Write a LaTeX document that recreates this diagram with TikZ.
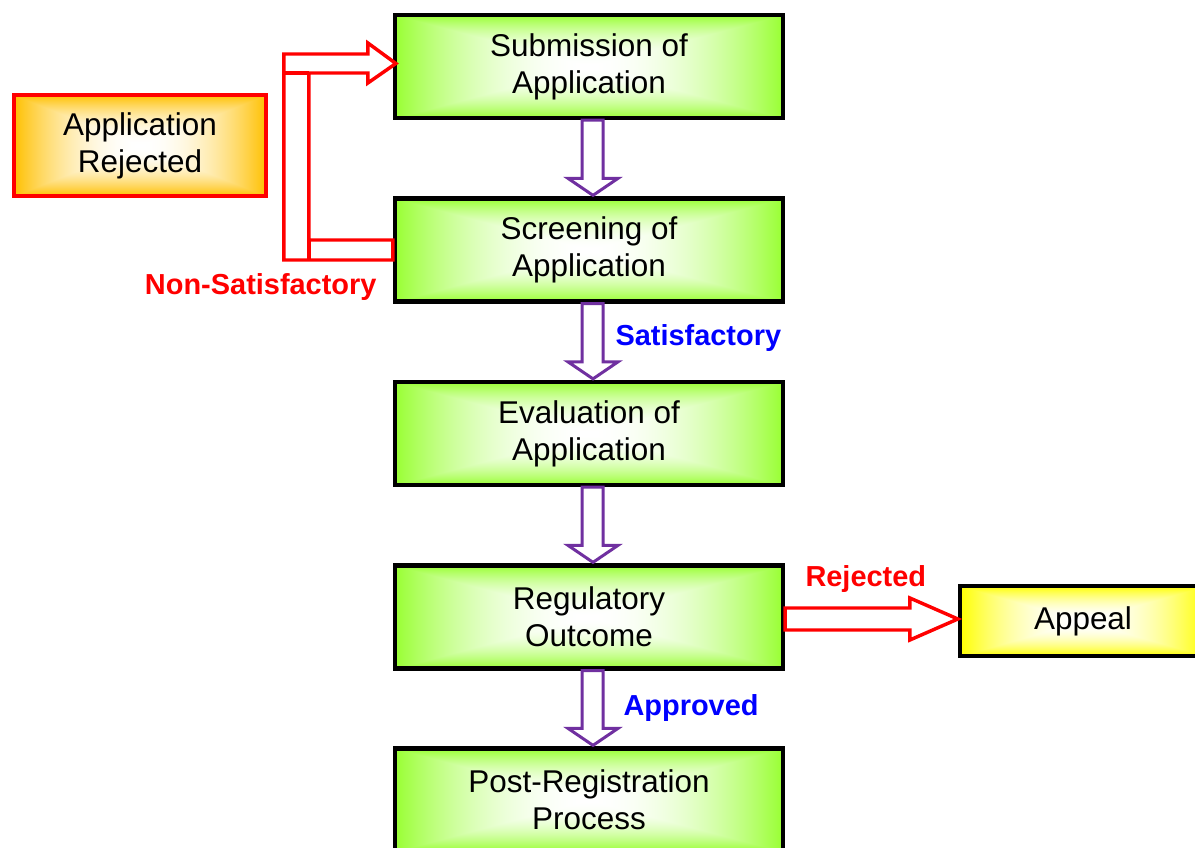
\documentclass[tikz,border=0pt]{standalone}
\usepackage{fontspec}
\setmainfont{Liberation Sans}
\usetikzlibrary{calc}

% rectangular glow: white in the middle, full colour at the border
\pgfdeclarefunctionalshading{greenglow}{\pgfpoint{0bp}{0bp}}{\pgfpoint{100bp}{100bp}}{}{
50 sub abs 25 exch sub 25 div exch 50 sub abs 25 exch sub 25 div
2 copy add 3 1 roll sub abs sub 2 div
1 exch sub dup mul 1 exch sub
dup 0.4 mul 0.6 add exch 0.8 mul 0.2 add 1 exch}
\pgfdeclarefunctionalshading{orangeglow}{\pgfpoint{0bp}{0bp}}{\pgfpoint{100bp}{100bp}}{}{
50 sub abs 25 exch sub 25 div exch 50 sub abs 25 exch sub 25 div
2 copy add 3 1 roll sub abs sub 2 div
1 exch sub dup mul 1 exch sub
dup 0.247 mul 0.753 add exch 1 3 1 roll}
\pgfdeclarefunctionalshading{yellowglow}{\pgfpoint{0bp}{0bp}}{\pgfpoint{100bp}{100bp}}{}{
50 sub abs 25 exch sub 25 div exch 50 sub abs 25 exch sub 25 div
2 copy add 3 1 roll sub abs sub 2 div
1 exch sub dup mul 1 exch sub
1 1 3 2 roll}

\definecolor{flowpurple}{RGB}{112,48,160}

\newcommand\boxfont{\fontsize{23.6}{27.75}\selectfont}
\newcommand\labelfont{\fontsize{21.7}{26}\selectfont\bfseries}

\tikzset{every picture/.style={line width=0.75pt},
  stagebox/.style={draw=black, line width=3.2pt, shading=greenglow, align=center, font=\boxfont,
    minimum width={388*0.75pt}, minimum height={103*0.75pt}, inner sep=0pt},
  rejectbox/.style={draw=red, line width=3.2pt, shading=orangeglow, align=center, font=\boxfont,
    minimum width={252*0.75pt}, minimum height={101*0.75pt}, inner sep=0pt},
  appealbox/.style={draw=black, line width=3.2pt, shading=yellowglow, align=center, font=\boxfont,
    minimum width={246*0.75pt}, minimum height={70*0.75pt}, inner sep=0pt},
  okarrow/.style={draw=flowpurple, line width=2.25pt, fill=white, line join=miter},
  noarrow/.style={draw=red, line width=2.6pt, fill=white, line join=miter},
  redlabel/.style={text=red, font=\labelfont, inner sep=0pt},
  bluelabel/.style={text=blue, font=\labelfont, inner sep=0pt}
}

% hollow arrow from the bottom of #1 down to the top of #2
\newcommand\hollowdown[2]{%
\draw [okarrow] ($(#1.south)+(-7,0)$) -- ($(#2.north)+(-7,-18)$) -- ($(#2.north)+(-21,-18)$) -- ($(#2.north)+(4,-1)$) -- ($(#2.north)+(29,-18)$) -- ($(#2.north)+(14,-18)$) -- ($(#1.south)+(14,0)$) -- cycle ;}

\begin{document}
\begin{tikzpicture}[x=0.75pt,y=0.75pt,yscale=-1,xscale=1]
\useasboundingbox (0,0) rectangle (1195,848);

%Shape: Rectangle [submission]
\node [stagebox] (sub) at (589,66.5) {Submission of\\Application};
%Shape: Rectangle [screening]
\node [stagebox] (scr) at (589,250) {Screening of\\Application};
%Shape: Rectangle [evaluation]
\node [stagebox] (eva) at (589,433.5) {Evaluation of\\Application};
%Shape: Rectangle [outcome]
\node [stagebox] (reg) at (589,617) {Regulatory\\Outcome};
%Shape: Rectangle [post registration]
\node [stagebox] (post) at (589,800) {Post-Registration\\Process};

%Shape: Rectangle [rejected]
\node [rejectbox] (rej) at (140,145.5) {Application\\Rejected};
%Shape: Rectangle [appeal]
\node [appealbox] (app) at (1083,621) {Appeal};

%Block Arrows
\hollowdown{sub}{scr}
\hollowdown{scr}{eva}
\hollowdown{eva}{reg}
\hollowdown{reg}{post}

%Bent Arrow [back to submission]
\draw [noarrow] ($(scr.west)+(0,-10)$) -- ($(scr.west)+(-84,-10)$) -- ($(sub.west)+(-84,6.5)$) -- ($(sub.west)+(-25,6.5)$) -- ($(sub.west)+(-25,16.5)$) -- ($(sub.west)+(3,-3)$) -- ($(sub.west)+(-25,-23.5)$) -- ($(sub.west)+(-25,-12.5)$) -- ($(sub.west)+(-109,-12.5)$) -- ($(scr.west)+(-109,10)$) -- ($(scr.west)+(0,10)$) -- cycle ;
\draw [noarrow, fill=none] ($(sub.west)+(-109,6.5)$) -- ($(sub.west)+(-84,6.5)$) ;
\draw [noarrow, fill=none] ($(scr.west)+(-84,-10)$) -- ($(scr.west)+(-84,10)$) ;

%Block Arrow [to appeal]
\draw [noarrow] ($(reg.east)+(0,-9)$) -- ($(app.west)+(-48,-13)$) -- ($(app.west)+(-48,-23)$) -- ($(app.west)+(0,-2)$) -- ($(app.west)+(-48,19)$) -- ($(app.west)+(-48,9)$) -- ($(reg.east)+(0,13)$) -- cycle ;

% Text Node
\node [redlabel, anchor=base east] (nonsat) at (377,295) {Non-Satisfactory};
% Text Node
\node [bluelabel, anchor=base west] (sat) at (615,345) {Satisfactory};
% Text Node
\node [redlabel, anchor=base west] (rejlabel) at (805,586) {Rejected};
% Text Node
\node [bluelabel, anchor=base west] (approved) at (623,715) {Approved};

\end{tikzpicture}
\end{document}
